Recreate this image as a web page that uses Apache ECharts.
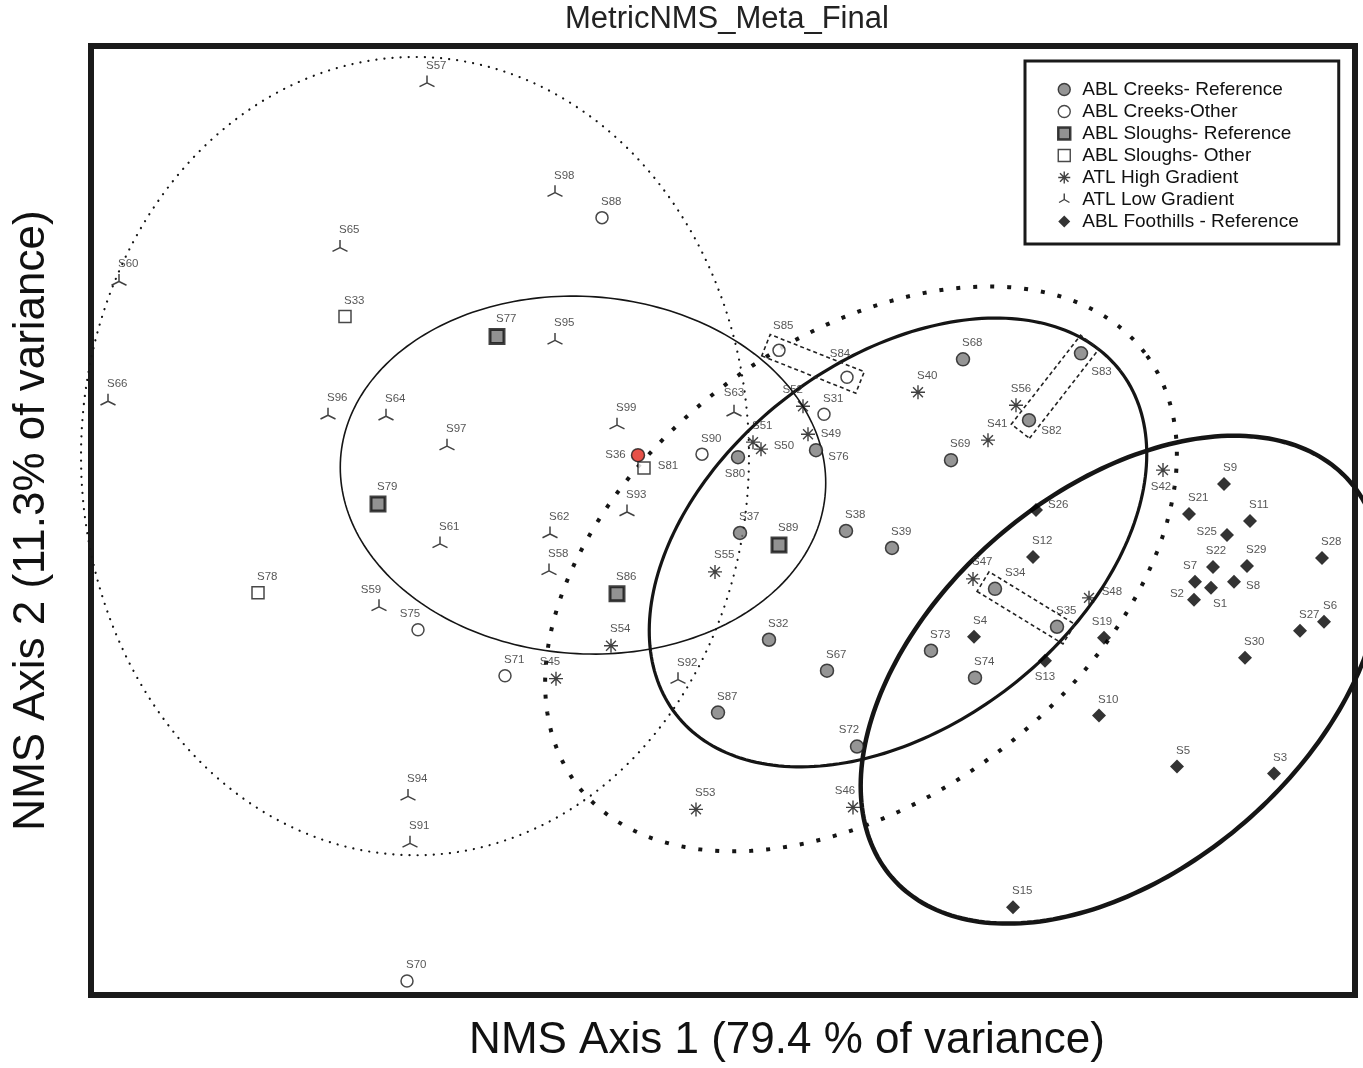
<!DOCTYPE html>
<html>
<head>
<meta charset="UTF-8">
<title>MetricNMS_Meta_Final</title>
<script src="https://cdn.jsdelivr.net/npm/echarts@6/dist/echarts.min.js"></script>
<style>
    html, body { margin: 0; padding: 0; background: #fff; }
    #chart { width: 1363px; height: 1068px; }
</style>
</head>
<body>
<div id="chart"></div>
<script>
// site scores on NMS axis 1 / axis 2 (plot units), [site, axis1, axis2]
const creeksRef = [
    ['S68', 872, 637], ['S83', 990, 643], ['S82', 938, 576], ['S69', 860, 536],
    ['S76', 725, 546], ['S80', 647, 539], ['S37', 649, 463], ['S38', 755, 465],
    ['S39', 801, 448], ['S34', 904, 407], ['S35', 966, 369], ['S73', 840, 345],
    ['S74', 884, 318], ['S32', 678, 356], ['S67', 736, 325], ['S87', 627, 283],
    ['S72', 766, 249], ['S36', 547, 541]
];
const creeksOther = [
    ['S88', 511, 779], ['S85', 688, 646], ['S84', 756, 619], ['S31', 733, 582],
    ['S90', 611, 542], ['S75', 327, 366], ['S71', 414, 320], ['S70', 316, 14]
];
const sloughRef = [
    ['S77', 406, 660], ['S79', 287, 492], ['S89', 688, 451], ['S86', 526, 402]
];
const sloughOther = [
    ['S33', 254, 680], ['S81', 553, 528], ['S78', 167, 403]
];
const atlHigh = [
    ['S52', 712, 590], ['S49', 717, 562], ['S51', 662, 554], ['S50', 670, 547],
    ['S40', 827, 604], ['S56', 925, 591], ['S41', 897, 556], ['S42', 1072, 526],
    ['S55', 624, 424], ['S54', 520, 350], ['S45', 465, 317], ['S47', 882, 417],
    ['S48', 998, 398], ['S53', 605, 186], ['S46', 762, 188]
];
const atlLow = [
    ['S57', 336, 914], ['S98', 464, 804], ['S65', 249, 749], ['S60', 28, 715],
    ['S95', 464, 656], ['S66', 17, 595], ['S96', 237, 581], ['S64', 295, 580],
    ['S97', 356, 550], ['S61', 349, 452], ['S59', 288, 389], ['S99', 526, 571],
    ['S63', 643, 584], ['S93', 536, 484], ['S62', 459, 462], ['S58', 458, 425],
    ['S92', 587, 316], ['S94', 317, 199], ['S91', 319, 152]
];
const foothills = [
    ['S9', 1133, 512], ['S21', 1098, 482], ['S11', 1159, 475], ['S25', 1136, 461],
    ['S28', 1231, 438], ['S22', 1122, 429], ['S29', 1156, 430], ['S7', 1104, 414],
    ['S1', 1120, 408], ['S8', 1143, 414], ['S2', 1103, 396], ['S27', 1209, 365],
    ['S6', 1233, 374], ['S30', 1154, 338], ['S26', 945, 486], ['S12', 942, 439],
    ['S4', 883, 359], ['S19', 1013, 358], ['S13', 954, 335], ['S10', 1008, 280],
    ['S5', 1086, 229], ['S3', 1183, 222], ['S15', 922, 88]
];

// group ellipses: [centre axis1, centre axis2, radius 1, radius 2, angle deg]
const ellLow = [324, 540, 334, 400, 0];
const ellSlough = [492, 521, 243, 179, -4];
const ellHigh = [770, 427, 357, 229, 37.4];
const ellCreek = [807, 453.5, 281, 183, 37.8];
const ellFoot = [1030, 316, 303, 189, 40.9];

// site pairs boxed with dashed outlines
const pairs = [['S85', 'S84'], ['S82', 'S83'], ['S34', 'S35']];

const FONT = "'Liberation Sans', Arial, sans-serif";
const XMAX = 1264, YMAX = 951;

const allSites = {};
[creeksRef, creeksOther, sloughRef, sloughOther, atlHigh, atlLow, foothills].forEach(arr =>
    arr.forEach(r => { allSites[r[0]] = [r[1], r[2]]; }));

// label placement tweaks
const R = (dx, dy) => ({ position: 'right', align: 'left', offset: [dx, dy] });
const L = (dx, dy) => ({ position: 'left', align: 'right', offset: [dx, dy] });
const B = (dx, dy) => ({ position: 'bottom', align: 'center', offset: [dx, dy] });
const T = (dx, dy) => ({ position: 'top', align: 'center', offset: [dx, dy] });
const TL = (dx, dy) => ({ position: 'top', align: 'right', offset: [dx, dy] });
const TR = (dx, dy) => ({ position: 'top', align: 'left', offset: [dx, dy] });
const labelPos = {
    S82: R(2, 11), S76: R(2, 7), S81: R(4, -2), S50: R(2, -3), S49: R(2, 0),
    S8: R(2, 4), S48: R(2, -6), S26: R(2, -5), S83: R(0, 18),
    S13: B(0, 0), S80: B(-3, 0), S1: B(9, 0), S42: B(-2, 0),
    S36: L(-2, 0), S2: L(0, -6), S25: L(0, -3),
    S52: TL(0, 0), S63: T(0, -2), S46: T(-8, 0), S72: T(-8, 0), S59: T(-8, 0),
    S45: T(-6, 0), S75: T(-8, 0), S19: T(-2, 0), S7: T(-5, 0), S22: T(3, 0),
    S84: T(-7, -8), S85: TR(-6, -9), S56: T(5, 0), S34: TR(10, 0)
};

const ASTER = 'path://M0,-10L0,10M-10,0L10,0M-7.07,-7.07L7.07,7.07M-7.07,7.07L7.07,-7.07';
const TRI = 'path://M0,-10L0,0M0,0L-8.66,5M0,0L8.66,5M0,10';
const SQUARE = 'path://M0,0H10V10H0Z';
const DIAMOND = 'path://M5,0L10,5L5,10L0,5Z';

function scatter(name, rows, symbol, size, itemStyle) {
    return {
        type: 'scatter', name: name, symbol: symbol, symbolSize: size,
        itemStyle: itemStyle, z: 5,
        label: {
            show: true, formatter: '{b}', position: 'top', align: 'left', distance: 3,
            offset: [-1, 0], color: '#2a2a2a', fontSize: 11.5, fontFamily: FONT
        },
        data: rows.map(r => {
            const d = { name: r[0], value: [r[1], r[2]] };
            if (labelPos[r[0]]) d.label = labelPos[r[0]];
            if (r[0] === 'S36') d.itemStyle = { color: '#e0261c' };
            return d;
        })
    };
}

function ellipse(e, style) {
    return {
        type: 'custom', silent: true, z: 2, clip: false, data: [e],
        renderItem: function (params, api) {
            const cx = api.value(0), cy = api.value(1), rx = api.value(2), ry = api.value(3);
            const a = api.value(4) * Math.PI / 180;
            const pts = [];
            for (let i = 0; i <= 240; i++) {
                const t = i / 240 * 2 * Math.PI;
                const u = rx * Math.cos(t), v = ry * Math.sin(t);
                pts.push(api.coord([cx + u * Math.cos(a) - v * Math.sin(a),
                                    cy + u * Math.sin(a) + v * Math.cos(a)]));
            }
            return { type: 'polyline', shape: { points: pts },
                     style: Object.assign({ fill: null, stroke: '#151515' }, style) };
        }
    };
}

const boxSeries = {
    type: 'custom', silent: true, z: 3,
    data: pairs.map(p => allSites[p[0]].concat(allSites[p[1]])),
    renderItem: function (params, api) {
        const p1 = api.coord([api.value(0), api.value(1)]);
        const p2 = api.coord([api.value(2), api.value(3)]);
        const dx = p2[0] - p1[0], dy = p2[1] - p1[1];
        const len = Math.sqrt(dx * dx + dy * dy);
        const ux = dx / len, uy = dy / len, nx = -uy, ny = ux;
        const ext = 14, half = 11.5;
        const a = [p1[0] - ux * ext, p1[1] - uy * ext];
        const b = [p2[0] + ux * ext, p2[1] + uy * ext];
        const pts = [
            [a[0] + nx * half, a[1] + ny * half], [b[0] + nx * half, b[1] + ny * half],
            [b[0] - nx * half, b[1] - ny * half], [a[0] - nx * half, a[1] - ny * half]
        ];
        return { type: 'polygon', shape: { points: pts },
                 style: { fill: null, stroke: '#222', lineWidth: 1.6, lineDash: [4, 3] } };
    }
};

const names = ['ABL Creeks- Reference', 'ABL Creeks-Other', 'ABL Sloughs- Reference',
    'ABL Sloughs- Other', 'ATL High Gradient', 'ATL Low Gradient', 'ABL Foothills - Reference'];

const legendData = names.map(n => ({ name: n }));
legendData[2].icon = SQUARE;
legendData[2].itemStyle = { borderWidth: 2.5 };
legendData[3].icon = SQUARE;
legendData[6].icon = DIAMOND;

const chart = echarts.init(document.getElementById('chart'));
chart.setOption({
    backgroundColor: '#fff',
    animation: false,
    title: {
        text: 'MetricNMS_Meta_Final', left: 565, top: 4, padding: 0,
        textStyle: { fontSize: 31, fontWeight: 'normal', color: '#222', fontFamily: FONT }
    },
    grid: {
        left: 91, right: 8, top: 46, bottom: 71, show: true,
        borderColor: '#1a1a1a', borderWidth: 6
    },
    legend: {
        orient: 'vertical', left: 1025, top: 61, data: legendData, selectedMode: false,
        itemWidth: 26, itemHeight: 12, itemGap: 3, padding: [19, 40, 13, 32],
        borderColor: '#1a1a1a', borderWidth: 3, backgroundColor: '#fff',
        itemStyle: { borderWidth: 1.4 },
        textStyle: { fontSize: 19, color: '#111', fontFamily: FONT }
    },
    xAxis: {
        type: 'value', min: 0, max: XMAX,
        axisLine: { show: false }, axisTick: { show: false },
        axisLabel: { show: false }, splitLine: { show: false },
        name: 'NMS Axis 1 (79.4 % of variance)', nameLocation: 'middle', nameGap: 24,
        nameTextStyle: { fontSize: 44, color: '#111', fontFamily: FONT, padding: [0, 0, 0, 128] }
    },
    yAxis: {
        type: 'value', min: 0, max: YMAX,
        axisLine: { show: false }, axisTick: { show: false },
        axisLabel: { show: false }, splitLine: { show: false },
        name: 'NMS Axis 2 (11.3% of variance)', nameLocation: 'middle', nameGap: 37,
        nameTextStyle: { fontSize: 44, color: '#111', fontFamily: FONT }
    },
    series: [
        ellipse(ellLow, { lineWidth: 2.2, lineDash: [0.1, 8], lineCap: 'round' }),
        ellipse(ellSlough, { lineWidth: 1.6 }),
        ellipse(ellHigh, { lineWidth: 4, lineDash: [4, 13] }),
        ellipse(ellCreek, { lineWidth: 3.2 }),
        ellipse(ellFoot, { lineWidth: 4.5 }),
        boxSeries,
        scatter(names[0], creeksRef, 'circle', 13,
            { color: '#7a7a7a', borderColor: '#1a1a1a', borderWidth: 1.5 }),
        scatter(names[1], creeksOther, 'circle', 12,
            { color: '#fff', borderColor: '#1a1a1a', borderWidth: 1.5 }),
        scatter(names[2], sloughRef, 'rect', 14,
            { color: '#777', borderColor: '#111', borderWidth: 3 }),
        scatter(names[3], sloughOther, 'rect', 12,
            { color: '#fff', borderColor: '#1a1a1a', borderWidth: 1.5 }),
        scatter(names[4], atlHigh, ASTER, 14,
            { color: 'rgba(0,0,0,0)', borderColor: '#111', borderWidth: 1.4 }),
        scatter(names[5], atlLow, TRI, 15,
            { color: 'rgba(0,0,0,0)', borderColor: '#111', borderWidth: 1.5 }),
        scatter(names[6], foothills, 'diamond', 14, { color: '#000' })
    ]
});
</script>
</body>
</html>
